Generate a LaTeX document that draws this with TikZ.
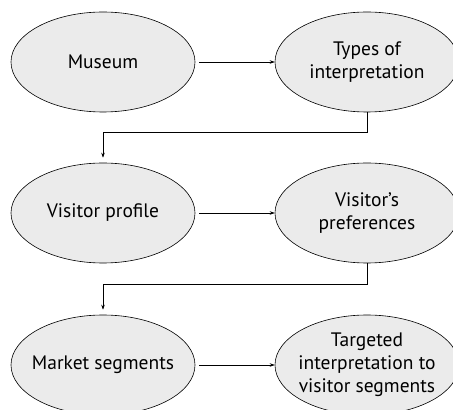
\documentclass[tikz,border=0pt]{standalone}
\usepackage{fontspec}
\setmainfont{PT Sans}
\usetikzlibrary{shapes.geometric,arrows.meta}
\definecolor{ellfill}{HTML}{EBEBEB}
\begin{document}
\begin{tikzpicture}[x=1pt,y=1pt,
  ell/.style={ellipse,draw,fill=ellfill,line width=0.6pt,minimum width=184pt,minimum height=100pt,inner sep=0pt},
  lab/.style={align=center,font=\fontsize{19.5}{23}\selectfont,inner sep=0pt},
  conn/.style={line width=0.6pt,-{Stealth[length=5pt,width=3.5pt]}}]
\useasboundingbox (0,0) rectangle (453,410);
\node[ell] (a) at (103,348) {};
\node[ell] (b) at (367,348) {};
\node[ell] (c) at (103,197) {};
\node[ell] (d) at (367,197) {};
\node[ell] (e) at (103,45) {};
\node[ell] (f) at (367,45) {};
\node[lab] (at) at (a) {Museum};
\node[lab] (bt) at (b) {Types of\\interpretation};
\node[lab] (ct) at (c) {Visitor profile};
\node[lab] (dt) at (d) {Visitor’s\\preferences};
\node[lab] (et) at (e) {Market segments};
\node[lab] (ft) at (f) {Targeted\\interpretation to\\visitor segments};
\draw[conn,shorten <=4pt] (a.east) -- (b.west);
\draw[conn,shorten <=4pt] (c.east) -- (d.west);
\draw[conn,shorten <=4pt] (e.east) -- (f.west);
\draw[conn,shorten >=5pt] (b.south) -- ++(0,-20) -| (c.north);
\draw[conn,shorten >=5pt] (d.south) -- ++(0,-21) -| (e.north);
\end{tikzpicture}
\end{document}
